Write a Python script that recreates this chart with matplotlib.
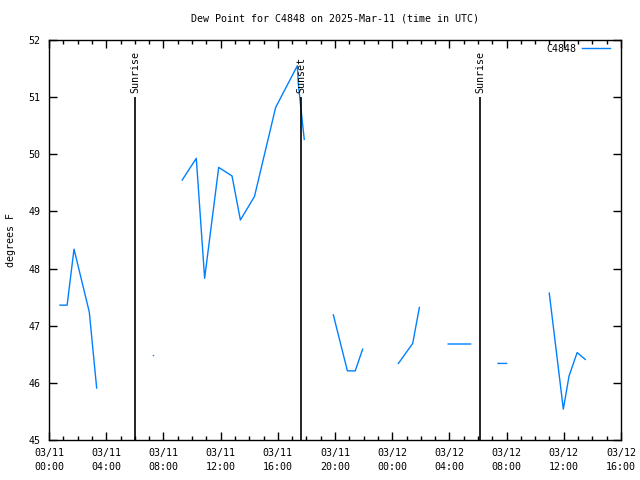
import numpy as np
import pandas as pd
import matplotlib
matplotlib.use('Agg')
import matplotlib.pyplot as plt
import matplotlib.dates as mdates

plt.rcParams['font.family'] = 'DejaVu Sans Mono'
plt.rcParams['font.size'] = 7.2

# dew point readings, None/nan = gap in record
times = ['2025-03-11 00:46', '2025-03-11 01:16', '2025-03-11 01:45', '2025-03-11 02:49', '2025-03-11 03:20',
         None,
         '2025-03-11 09:19', '2025-03-11 10:18', '2025-03-11 10:53', '2025-03-11 11:52', '2025-03-11 12:48',
         '2025-03-11 13:23', '2025-03-11 14:22', '2025-03-11 15:51', '2025-03-11 17:22', '2025-03-11 17:26',
         '2025-03-11 17:34', '2025-03-11 17:51',
         None,
         '2025-03-11 19:53', '2025-03-11 20:52', '2025-03-11 21:25', '2025-03-11 21:56',
         None,
         '2025-03-12 00:26', '2025-03-12 01:26', '2025-03-12 01:54',
         None,
         '2025-03-12 03:55', '2025-03-12 05:29',
         None,
         '2025-03-12 07:24', '2025-03-12 08:00',
         None,
         '2025-03-12 10:59', '2025-03-12 11:58', '2025-03-12 12:22', '2025-03-12 12:56', '2025-03-12 13:30']
dewpt = [47.36, 47.36, 48.34, 47.24, 45.91,
         np.nan,
         49.55, 49.93, 47.83, 49.77, 49.62,
         48.85, 49.26, 50.82, 51.55, 51.24,
         50.92, 50.26,
         np.nan,
         47.19, 46.21, 46.21, 46.59,
         np.nan,
         46.34, 46.69, 47.32,
         np.nan,
         46.68, 46.68,
         np.nan,
         46.34, 46.34,
         np.nan,
         47.57, 45.54, 46.12, 46.53, 46.41]

# single isolated reading
lone_time = ['2025-03-11 07:17']
lone_val = [46.48]

events = ['Sunrise', 'Sunset', 'Sunrise']
event_times = ['2025-03-11 06:01', '2025-03-11 17:38', '2025-03-12 06:10']

# gaps: reuse previous timestamp so the nan just breaks the line
t = []
for s in times:
    t.append(pd.Timestamp(s) if s else t[-1])

fig = plt.figure(figsize=(6.4, 4.8), dpi=100)
ax = fig.add_axes([49/640, 40/480, 572/640, 400/480])

ax.plot(t, dewpt, color='#0080ff', lw=1, label='C4848')
ax.plot(pd.to_datetime(lone_time), lone_val, ls='none', marker='s', ms=1, mew=0, color='#0080ff')

for name, et in zip(events, event_times):
    et = pd.Timestamp(et)
    ax.plot([et, et], [45, 51], color='black', lw=1.2, solid_capstyle='butt')
    ax.text(et, 51.08, name, rotation=90, ha='center', va='bottom')

ax.set_xlim(pd.Timestamp('2025-03-11 00:00'), pd.Timestamp('2025-03-12 16:00'))
ax.set_ylim(45, 52)
ax.xaxis.set_major_locator(mdates.HourLocator(byhour=range(0, 24, 4)))
ax.xaxis.set_minor_locator(mdates.HourLocator())
ax.xaxis.set_major_formatter(mdates.DateFormatter('%m/%d\n%H:%M'))
ax.set_yticks(range(45, 53))
ax.tick_params(which='both', direction='in', top=True, right=True, width=1)
ax.tick_params(which='major', length=6, pad=6)
ax.tick_params(which='minor', length=3)
for lbl in ax.get_xticklabels():
    lbl.set_linespacing(1.5)
for s in ax.spines.values():
    s.set_linewidth(1)

ax.set_ylabel('degrees F', labelpad=9)
ax.set_title('Dew Point for C4848 on 2025-Mar-11 (time in UTC)', fontsize=7.2, pad=13)
leg = ax.legend(loc='upper right', bbox_to_anchor=(1 - 11/572, 1 - 4/400), frameon=False,
                handlelength=2.8, handletextpad=0.6, markerfirst=False,
                borderaxespad=0.0, borderpad=0.0)

fig.savefig('out.png', dpi=100)
